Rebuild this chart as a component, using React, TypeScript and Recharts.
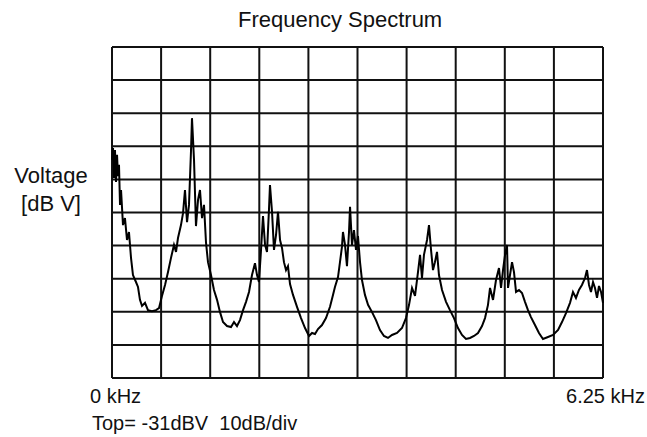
import { LineChart, Line, XAxis, YAxis, CartesianGrid } from 'recharts'

// trace: frequency in kHz, level in dBV
const freqKHz = [
  0, 0.013, 0.025, 0.038, 0.051, 0.064, 0.076, 0.089, 0.102, 0.115,
  0.14, 0.165, 0.191, 0.216, 0.242, 0.267, 0.305, 0.331, 0.356, 0.382,
  0.42, 0.458, 0.509, 0.56, 0.598, 0.636, 0.675, 0.713, 0.751, 0.789,
  0.815, 0.84, 0.878, 0.904, 0.929, 0.955, 0.98, 1.006, 1.018, 1.044,
  1.069, 1.095, 1.12, 1.146, 1.171, 1.197, 1.222, 1.26, 1.298, 1.337,
  1.375, 1.413, 1.464, 1.515, 1.553, 1.591, 1.629, 1.668, 1.706, 1.744,
  1.782, 1.82, 1.846, 1.871, 1.897, 1.922, 1.948, 1.973, 1.998, 2.011,
  2.037, 2.062, 2.088, 2.113, 2.139, 2.164, 2.189, 2.215, 2.24, 2.266,
  2.304, 2.355, 2.406, 2.457, 2.508, 2.546, 2.584, 2.622, 2.673, 2.724,
  2.775, 2.813, 2.838, 2.877, 2.902, 2.927, 2.94, 2.966, 2.991, 3.017,
  3.03, 3.055, 3.08, 3.106, 3.131, 3.157, 3.182, 3.22, 3.259, 3.31,
  3.36, 3.411, 3.462, 3.513, 3.564, 3.628, 3.691, 3.742, 3.781, 3.819,
  3.857, 3.895, 3.921, 3.946, 3.971, 4.01, 4.035, 4.061, 4.086, 4.111,
  4.137, 4.162, 4.201, 4.252, 4.302, 4.353, 4.404, 4.455, 4.506, 4.557,
  4.608, 4.659, 4.71, 4.748, 4.786, 4.812, 4.85, 4.888, 4.926, 4.952,
  4.977, 5.003, 5.028, 5.041, 5.066, 5.092, 5.117, 5.143, 5.181, 5.219,
  5.257, 5.295, 5.333, 5.384, 5.435, 5.486, 5.55, 5.614, 5.678, 5.728,
  5.779, 5.83, 5.868, 5.906, 5.944, 5.982, 6.021, 6.046, 6.072, 6.097,
  6.123, 6.148, 6.174, 6.199, 6.225, 6.25,
]

const levelDBV = [
  -65.1, -61.5, -70.6, -62.1, -71.8, -63.6, -70.0, -66.6, -78.7, -74.2,
  -84.8, -82.7, -89.3, -86.9, -94.7, -99.9, -102.0, -103.5, -107.4, -109.2,
  -108.3, -110.5, -110.8, -110.5, -109.9, -106.2, -102.9, -99.0, -94.7, -90.8,
  -92.9, -88.7, -84.8, -81.2, -74.2, -83.9, -78.7, -62.1, -52.5, -65.1,
  -85.1, -77.2, -74.2, -82.7, -78.7, -90.2, -96.0, -99.9, -104.4, -107.4,
  -111.1, -114.1, -115.3, -115.6, -114.1, -115.3, -113.5, -110.5, -108.0, -105.0,
  -99.9, -96.3, -99.9, -102.0, -92.3, -82.1, -90.8, -92.9, -80.2, -72.7,
  -80.8, -92.3, -87.8, -80.8, -89.3, -91.7, -96.0, -98.4, -97.2, -102.6,
  -105.9, -109.5, -112.9, -115.9, -118.3, -117.4, -117.7, -116.2, -115.0, -112.9,
  -109.5, -105.9, -103.5, -100.5, -96.0, -91.4, -86.9, -90.8, -97.2, -86.9,
  -79.3, -90.8, -86.3, -92.3, -88.1, -96.0, -101.4, -105.9, -108.9, -111.1,
  -113.5, -116.5, -118.3, -118.9, -118.0, -117.4, -115.9, -112.9, -108.9, -103.8,
  -106.2, -99.0, -93.8, -100.8, -93.8, -89.3, -84.8, -92.3, -98.4, -96.0,
  -92.9, -99.9, -104.4, -108.0, -110.5, -112.9, -115.9, -118.0, -119.2, -118.9,
  -118.3, -117.4, -115.3, -112.9, -108.9, -103.8, -107.4, -101.4, -97.8, -103.8,
  -98.4, -93.8, -90.8, -103.8, -99.9, -96.0, -99.0, -105.0, -104.4, -105.3,
  -108.0, -110.5, -112.6, -115.0, -117.4, -119.2, -118.6, -118.0, -116.5, -114.1,
  -111.4, -108.3, -105.0, -106.8, -104.4, -102.9, -100.8, -98.4, -102.9, -105.0,
  -102.0, -103.8, -106.8, -103.2, -105.0, -108.3,
]

// 10 divisions each way: 0..6.25 kHz, top -31 dBV at 10 dB/div
const freqTicks = [0, 0.625, 1.25, 1.875, 2.5, 3.125, 3.75, 4.375, 5, 5.625, 6.25]
const levelTicks = [-131, -121, -111, -101, -91, -81, -71, -61, -51, -41, -31]

const data = freqKHz.map((f, i) => ({ f, v: levelDBV[i] }))

const font = '"Liberation Sans", Arial, sans-serif'
const hiddenTick = { fill: 'transparent', fontSize: 1 }

export default function App() {
  return (
    <div style={{ position: 'absolute', left: 0, top: 0, width: 647, height: 437, background: '#fff', fontFamily: font, color: '#111' }}>
      <LineChart width={647} height={437} data={data} margin={{ top: 47, right: 44, bottom: 59, left: 112 }}>
        <CartesianGrid stroke="#111" strokeWidth={2} strokeOpacity={1} />
        <XAxis
          dataKey="f"
          type="number"
          domain={[0, 6.25]}
          ticks={freqTicks}
          interval={0}
          tick={hiddenTick}
          tickLine={false}
          axisLine={false}
          height={0}
        />
        <YAxis
          type="number"
          domain={[-131, -31]}
          ticks={levelTicks}
          interval={0}
          tick={hiddenTick}
          tickLine={false}
          axisLine={false}
          width={0}
        />
        <Line
          type="linear"
          dataKey="v"
          stroke="#000"
          strokeWidth={2}
          dot={false}
          isAnimationActive={false}
        />
      </LineChart>
      <div style={{ position: 'absolute', left: 238, top: 9, fontSize: 22, lineHeight: '22px', whiteSpace: 'pre' }}>
        Frequency Spectrum
      </div>
      <div style={{ position: 'absolute', left: 0, width: 102, top: 165, fontSize: 22, lineHeight: '22px', textAlign: 'center' }}>
        Voltage
      </div>
      <div style={{ position: 'absolute', left: 0, width: 102, top: 193, fontSize: 22, lineHeight: '22px', textAlign: 'center', whiteSpace: 'pre' }}>
        [dB V]
      </div>
      <div style={{ position: 'absolute', left: 90, top: 386, fontSize: 20, lineHeight: '20px', whiteSpace: 'pre' }}>
        0 kHz
      </div>
      <div style={{ position: 'absolute', right: 2, top: 386, fontSize: 20, lineHeight: '20px', whiteSpace: 'pre' }}>
        6.25 kHz
      </div>
      <div style={{ position: 'absolute', left: 92, top: 413, fontSize: 20, lineHeight: '20px', whiteSpace: 'pre' }}>
        Top= -31dBV  10dB/div
      </div>
    </div>
  )
}
